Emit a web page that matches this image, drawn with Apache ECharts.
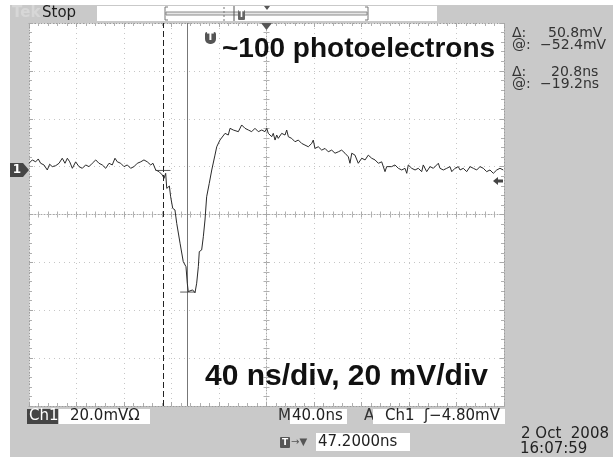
<!DOCTYPE html>
<html><head><meta charset="utf-8">
<script src="https://cdn.jsdelivr.net/npm/echarts@6/dist/echarts.min.js"></script>
<style>html,body{margin:0;padding:0;background:#fff}#c{width:613px;height:461px}</style>
</head><body><div id="c"></div>
<script>
// ---- data (ns, mV) ----
const traceTime = [-152.8,-150.0,-147.2,-145.0,-143.0,-140.2,-137.4,-135.4,-133.2,-130.3,-127.5,-124.8,-122.5,-120.5,-118.5,-116.3,-113.5,-110.7,-107.9,-105.1,-102.3,-99.5,-96.6,-93.9,-91.1,-88.2,-85.4,-82.7,-80.4,-78.4,-75.6,-72.8,-70.0,-67.2,-64.4,-61.6,-58.7,-56.0,-53.2,-50.3,-48.4,-46.1,-43.3,-40.5,-39.1,-37.7,-36.8,-34.6,-33.5,-31.8,-29.9,-28.4,-25.6,-22.9,-20.6,-19.5,-18.7,-17.2,-15.0,-13.0,-11.6,-10.2,-9.4,-7.4,-6.0,-4.6,-3.2,-1.0,1.1,3.8,5.3,8.0,9.5,12.3,15.0,16.5,19.2,20.7,23.5,26.3,27.7,29.1,31.9,34.7,37.5,40.3,43.2,45.9,47.4,48.7,50.2,51.6,52.9,54.4,55.8,57.1,60.0,62.8,64.2,65.6,68.4,71.2,74.0,76.8,79.6,82.4,85.3,86.6,88.0,90.8,93.7,96.5,99.2,102.1,104.9,107.7,110.5,113.3,116.1,117.5,119.0,121.7,124.5,127.4,130.2,132.9,135.8,138.6,141.4,144.2,147.0,148.4,149.8,152.6,155.4,158.2,161.1,163.8,165.3,166.6,168.0,169.5,172.3,175.0,177.9,179.2,180.7,182.1,184.9,187.7,189.1,191.9,193.3,196.1,199.0,201.7,203.2,205.9,208.7,210.2,212.9,215.8,218.6,221.4,224.2,227.0,229.8,232.6,235.4,238.2,241.1,243.8,246.6];
const traceMv = [1.4,2.8,2.0,3.2,1.4,0.7,-1.4,1.0,0.0,0.4,1.4,3.5,1.4,3.5,2.0,-0.7,2.0,0.0,-0.7,0.7,0.0,1.4,2.8,1.4,0.7,-0.7,1.4,0.7,3.5,2.0,1.4,0.0,0.7,-0.7,0.0,1.4,2.0,2.8,2.0,0.7,1.4,-1.4,-2.1,-3.5,-4.9,-2.8,-9.1,-8.1,-12.6,-17.4,-18.1,-23.7,-32.0,-39.7,-41.8,-48.7,-52.2,-52.7,-51.5,-52.7,-48.7,-41.8,-35.5,-34.8,-29.3,-22.3,-12.6,-7.0,-1.4,4.8,8.3,11.1,11.8,13.9,13.2,16.0,15.3,16.0,14.6,17.4,18.1,16.0,15.3,14.6,16.0,14.6,15.3,14.6,16.0,13.9,14.6,12.5,13.9,11.1,13.2,11.8,13.9,13.2,15.3,12.5,11.8,10.4,11.1,9.7,9.0,8.3,9.7,11.1,7.6,8.3,6.9,7.6,6.2,6.9,5.6,6.2,6.9,5.6,4.1,1.4,5.6,4.8,1.4,3.5,2.8,4.8,3.5,2.8,1.4,2.0,-2.1,0.0,0.7,0.0,0.7,-0.7,-1.4,-0.7,-2.8,0.7,0.0,-0.7,-1.4,-0.7,-2.1,0.7,0.0,-2.1,0.0,-0.7,-1.4,1.4,-0.7,-1.4,-0.7,0.0,-2.1,-0.7,0.0,-1.4,-0.7,-2.1,0.0,-0.7,-1.4,0.0,-0.7,-2.1,-1.4,-2.8,-1.4,-0.7,-1.4];
const cursorTimes = [-40, -19.2];
const cursorMv = [-1.6, -52.4];
const timeRange = [-152.8, 247.2];   // 10 div x 40 ns
const mvRange = [-100, 60];          // 8 div x 20 mV
const divX = [-5, 5];
const divY = [-4, 4];
const readoutLabels = ['Δ:', '@:', 'Δ:', '@:'];
const readoutValues = ['50.8mV', '−52.4mV', '20.8ns', '−19.2ns'];
const titleText = '~100 photoelectrons';
const scaleText = '40 ns/div, 20 mV/div';

const UI = '"DejaVu Sans", sans-serif';
const BIG = '"Liberation Sans", Arial, sans-serif';
const GREY = '#c9c9c9', DARK = '#454545';

function gratAxis(pos, extra) {
  return Object.assign({
    type: 'value', min: pos === 'x' ? divX[0] : divY[0], max: pos === 'x' ? divX[1] : divY[1], interval: 1,
    axisLabel: { show: false },
    axisLine: { show: true, onZero: false, lineStyle: { color: '#9c9c9c', type: [1, 2], width: 1 } },
    axisTick: { show: true, inside: true, length: 4, lineStyle: { color: '#a8a8a8' } },
    minorTick: { show: true, splitNumber: 5, length: 3, lineStyle: { color: '#b0b0b0' } },
    splitLine: { show: false }
  }, extra);
}
const centerLine = { show: true, onZero: true, onZeroAxisIndex: 1, lineStyle: { color: '#a8a8a8', type: [1, 2], width: 1 } };
const centerHidden = { show: true, onZero: true, onZeroAxisIndex: 1, lineStyle: { color: 'rgba(0,0,0,0)', width: 1 } };
const centerTick = (inside) => ({ show: true, inside: inside, length: 3, lineStyle: { color: '#a8a8a8' } });
const gridSplit = { show: true, lineStyle: { color: '#c6c6c6', type: [1, 4], width: 1 } };

const readoutY = [33, 45, 72, 84];
const readoutX = [548, 540, 551, 540];

const graphics = [
  { type: 'rect', z: -100, shape: { x: 10, y: 5, width: 603, height: 452 }, style: { fill: GREY } },
  { type: 'text', style: { text: 'Tek', x: 12, y: 13, font: 'bold 15px ' + UI, fill: '#d7d7d7', textVerticalAlign: 'middle' } },
  { type: 'text', style: { text: 'Stop', x: 42, y: 13, font: '15px ' + UI, fill: '#1e1e1e', textVerticalAlign: 'middle' } },
  { type: 'rect', shape: { x: 97, y: 6, width: 340, height: 15 }, style: { fill: '#fff' } },
  { type: 'rect', shape: { x: 166, y: 12, width: 201, height: 3 }, style: { fill: '#e6e6e6', stroke: '#8a8a8a', lineWidth: 1 } },
  { type: 'polyline', shape: { points: [[168, 7], [165, 7], [165, 20], [168, 20]] }, style: { stroke: '#777', fill: null } },
  { type: 'polyline', shape: { points: [[365, 7], [368, 7], [368, 20], [365, 20]] }, style: { stroke: '#777', fill: null } },
  { type: 'line', shape: { x1: 224, y1: 7, x2: 224, y2: 21 }, style: { stroke: '#777', lineDash: [2, 2] } },
  { type: 'line', shape: { x1: 234, y1: 6, x2: 234, y2: 21 }, style: { stroke: '#555' } },
  { type: 'rect', shape: { x: 238, y: 10, width: 7, height: 10, r: 1 }, style: { fill: '#666' } },
  { type: 'text', style: { text: 'T', x: 241.5, y: 15, font: 'bold 8px ' + UI, fill: '#fff', textAlign: 'center', textVerticalAlign: 'middle' } },
  { type: 'polygon', shape: { points: [[264, 6], [270, 6], [267, 10]] }, style: { fill: '#555' } },
  { type: 'polygon', z: 10, shape: { points: [[261, 23], [272, 23], [266.5, 30]] }, style: { fill: '#555' } },
  { type: 'rect', z: 10, shape: { x: 205, y: 32, width: 11, height: 12, r: [2, 2, 5, 5] }, style: { fill: '#555' } },
  { type: 'text', z: 11, style: { text: 'T', x: 210.5, y: 37.5, font: 'bold 10px ' + UI, fill: '#fff', textAlign: 'center', textVerticalAlign: 'middle' } },
  { type: 'text', z: 12, style: { text: titleText, x: 222, y: 49, font: 'bold 28px ' + BIG, fill: '#111', textVerticalAlign: 'middle' } },
  { type: 'text', z: 12, style: { text: scaleText, x: 205, y: 377, font: 'bold 30px ' + BIG, fill: '#111', textVerticalAlign: 'middle' } },
  // channel marker
  { type: 'polygon', shape: { points: [[10, 163], [23, 163], [29, 170], [23, 177], [10, 177]] }, style: { fill: DARK } },
  { type: 'text', style: { text: '1', x: 17, y: 170, font: 'bold 12px ' + UI, fill: '#fff', textAlign: 'center', textVerticalAlign: 'middle' } },
  // trigger level arrow
  { type: 'polygon', z: 10, shape: { points: [[493, 181], [498, 177], [498, 179.5], [503, 179.5], [503, 182.5], [498, 182.5], [498, 185]] }, style: { fill: DARK } },
  // bottom status
  { type: 'rect', shape: { x: 27, y: 409, width: 31, height: 15 }, style: { fill: DARK } },
  { type: 'text', style: { text: 'Ch1', x: 29, y: 416.5, font: '15px ' + UI, fill: '#fff', textVerticalAlign: 'middle' } },
  { type: 'rect', shape: { x: 59, y: 409, width: 91, height: 15 }, style: { fill: '#fff' } },
  { type: 'text', style: { text: '20.0mVΩ', x: 70, y: 416.5, font: '15px ' + UI, fill: '#222', textVerticalAlign: 'middle' } },
  { type: 'text', style: { text: 'M', x: 278, y: 416.5, font: '15px ' + UI, fill: '#333', textVerticalAlign: 'middle' } },
  { type: 'rect', shape: { x: 290, y: 409, width: 57, height: 15 }, style: { fill: '#fff' } },
  { type: 'text', style: { text: '40.0ns', x: 292, y: 416.5, font: '15px ' + UI, fill: '#222', textVerticalAlign: 'middle' } },
  { type: 'text', style: { text: 'A', x: 364, y: 416.5, font: '15px ' + UI, fill: '#333', textVerticalAlign: 'middle' } },
  { type: 'rect', shape: { x: 373, y: 409, width: 132, height: 15 }, style: { fill: '#fff' } },
  { type: 'text', style: { text: 'Ch1  ʃ−4.80mV', x: 385, y: 416.5, font: '15px ' + UI, fill: '#222', textVerticalAlign: 'middle' } },
  { type: 'rect', shape: { x: 280, y: 437, width: 10, height: 11, r: 1 }, style: { fill: '#555' } },
  { type: 'text', style: { text: 'T', x: 285, y: 442.5, font: 'bold 9px ' + UI, fill: '#fff', textAlign: 'center', textVerticalAlign: 'middle' } },
  { type: 'text', style: { text: '→▼', x: 291, y: 442, font: '10px ' + UI, fill: '#555', textVerticalAlign: 'middle' } },
  { type: 'rect', shape: { x: 316, y: 433, width: 94, height: 18 }, style: { fill: '#fff' } },
  { type: 'text', style: { text: '47.2000ns', x: 318, y: 442, font: '15px ' + UI, fill: '#222', textVerticalAlign: 'middle' } },
  { type: 'text', style: { text: '2 Oct  2008', x: 609, y: 434, font: '15px ' + UI, fill: '#222', textAlign: 'right', textVerticalAlign: 'middle' } },
  { type: 'text', style: { text: '16:07:59', x: 520, y: 449, font: '15px ' + UI, fill: '#222', textVerticalAlign: 'middle' } }
];
readoutLabels.forEach((l, i) => {
  graphics.push({ type: 'text', style: { text: l, x: 512, y: readoutY[i], font: '14px ' + UI, fill: '#333', textVerticalAlign: 'middle' } });
  graphics.push({ type: 'text', style: { text: readoutValues[i], x: readoutX[i], y: readoutY[i], font: '14px ' + UI, fill: '#333', textVerticalAlign: 'middle' } });
});

const chart = echarts.init(document.getElementById('c'), null, { renderer: 'canvas' });
chart.setOption({
  animation: false,
  backgroundColor: '#ffffff',
  grid: { left: 29, top: 23, width: 475, height: 383, show: true, backgroundColor: '#ffffff', borderWidth: 0 },
  xAxis: [
    { type: 'value', min: timeRange[0], max: timeRange[1], show: false },
    gratAxis('x', { position: 'bottom', splitLine: gridSplit }),
    gratAxis('x', { position: 'top' }),
    gratAxis('x', { position: 'bottom', axisLine: centerLine, axisTick: centerTick(true) }),
    gratAxis('x', { position: 'bottom', axisLine: centerHidden, axisTick: centerTick(false) })
  ],
  yAxis: [
    { type: 'value', min: mvRange[0], max: mvRange[1], show: false },
    gratAxis('y', { position: 'left', splitLine: gridSplit }),
    gratAxis('y', { position: 'right' }),
    gratAxis('y', { position: 'left', axisLine: centerLine, axisTick: centerTick(true) }),
    gratAxis('y', { position: 'left', axisLine: centerHidden, axisTick: centerTick(false) })
  ],
  series: [
    {
      type: 'line', xAxisIndex: 0, yAxisIndex: 0, z: 5,
      data: traceTime.map((t, i) => [t, traceMv[i]]),
      symbol: 'none', showSymbol: false,
      lineStyle: { color: '#2a2a2a', width: 1 },
      markLine: {
        silent: true, symbol: 'none', label: { show: false }, animation: false,
        data: [
          { xAxis: cursorTimes[0], lineStyle: { color: '#222', type: [6, 3], width: 1 } },
          { xAxis: cursorTimes[1], lineStyle: { color: '#777', type: 'solid', width: 1 } }
        ]
      }
    },
    {
      type: 'scatter', xAxisIndex: 0, yAxisIndex: 0, z: 6, silent: true,
      data: cursorTimes.map((t, i) => [t, cursorMv[i]]),
      symbol: 'rect', symbolSize: [15, 1], itemStyle: { color: '#333' }
    }
  ],
  graphic: graphics
});
</script>
</body></html>
